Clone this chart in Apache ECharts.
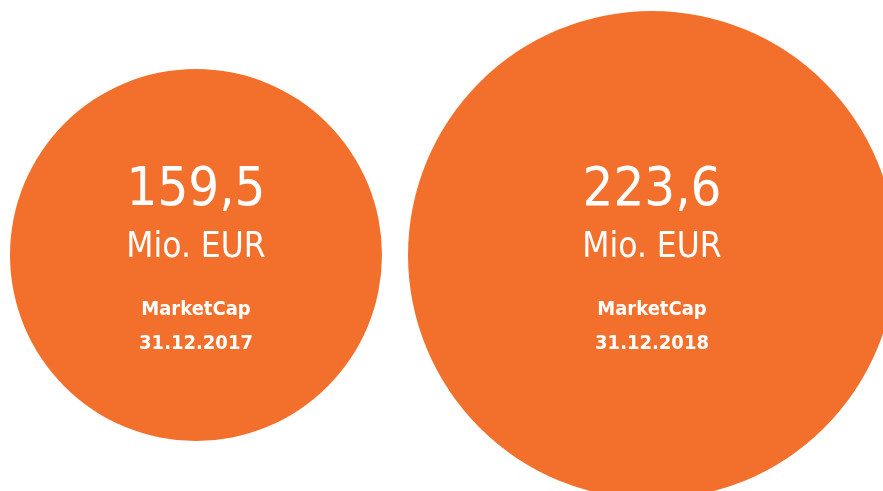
<!DOCTYPE html>
<html>
<head>
<meta charset="utf-8">
<style>
html,body{margin:0;padding:0;background:#fff;}
#chart{width:883px;height:491px;}
</style>
<script src="https://cdn.jsdelivr.net/npm/echarts@6/dist/echarts.min.js"></script>
</head>
<body>
<div id="chart"></div>
<script>
var categories = ["31.12.2017", "31.12.2018"];
var marketCap = [159.5, 223.6];
var unitLabel = "Mio. EUR";
var metricLabel = "MarketCap";

var seriesData = categories.map(function (c, i) { return [c, 0, marketCap[i]]; });
var FONT = '"DejaVu Sans Condensed", "Liberation Sans Narrow", "Liberation Sans", sans-serif';

var chart = echarts.init(document.getElementById('chart'), null, {renderer: 'canvas'});
chart.setOption({
  animation: false,
  backgroundColor: '#ffffff',
  grid: {left: 196, right: 231, top: 19, bottom: 0},
  xAxis: {type: 'category', data: categories, boundaryGap: false, show: false},
  yAxis: {type: 'value', min: -1, max: 1, show: false},
  visualMap: {
    type: 'continuous', show: false, dimension: 2,
    min: Math.min.apply(null, marketCap), max: Math.max.apply(null, marketCap),
    inRange: {symbolSize: [372, 488]}
  },
  series: [{
    type: 'scatter',
    clip: false,
    data: seriesData,
    itemStyle: {color: '#F26F2C', opacity: 1},
    emphasis: {disabled: true},
    label: {
      show: true,
      position: 'inside',
      offset: [0, 7.5],
      fontFamily: FONT,
      color: '#ffffff',
      formatter: function (p) {
        var v = p.value[2].toFixed(1).replace('.', ',');
        return '{a|' + v + '}\n{b|' + unitLabel + '}\n{s| }\n{c|' + metricLabel + '}\n{d|' + p.value[0] + '}';
      },
      rich: {
        a: {fontFamily: FONT, fontSize: 54, lineHeight: 55, color: '#fff'},
        b: {fontFamily: FONT, fontSize: 35, lineHeight: 59, color: '#fff'},
        s: {fontFamily: FONT, fontSize: 2, lineHeight: 15, color: '#fff'},
        c: {fontFamily: FONT, fontSize: 20, fontWeight: 'bold', lineHeight: 34, color: '#fff'},
        d: {fontFamily: FONT, fontSize: 20, fontWeight: 'bold', lineHeight: 35, color: '#fff'}
      }
    }
  }]
});
</script>
</body>
</html>
